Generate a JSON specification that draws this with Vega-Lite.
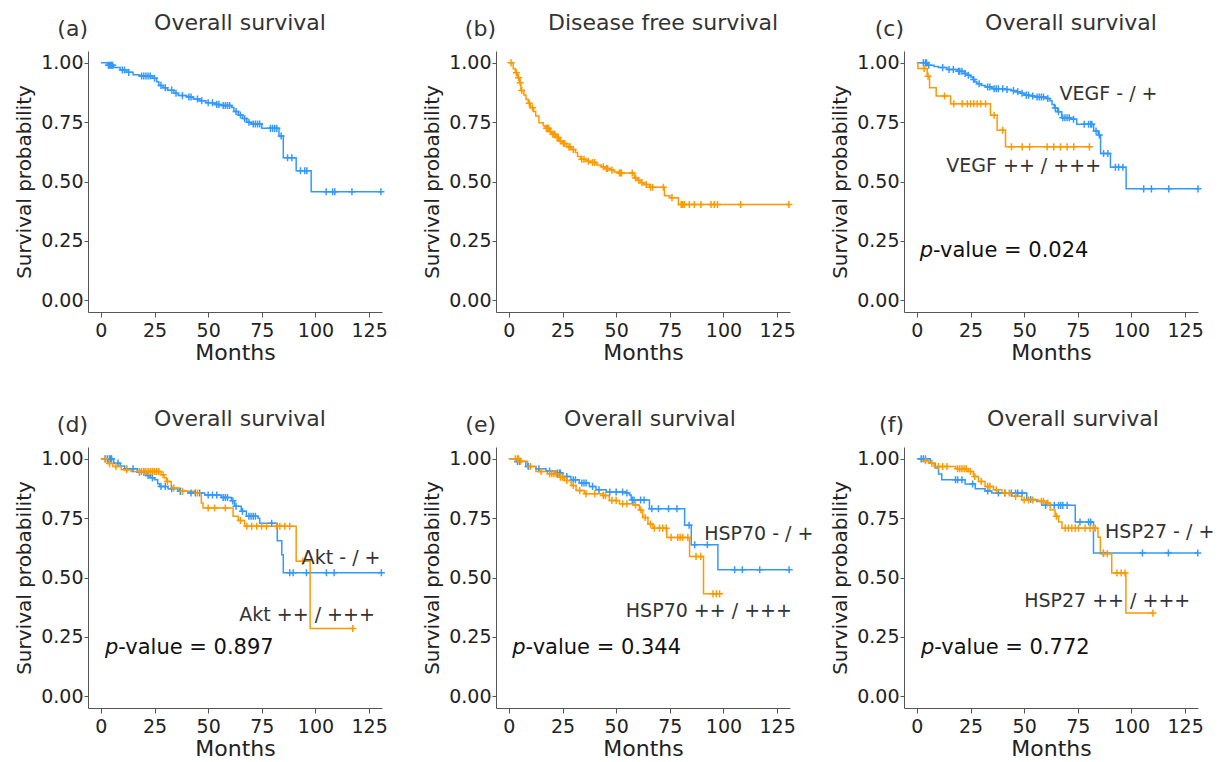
{
 "$schema": "https://vega.github.io/schema/vega-lite/v6.json",
 "padding": {"left": 14, "top": 11, "right": 5, "bottom": 0},
 "background": "white",
 "columns": 3,
 "spacing": {"row": 135, "column": 114},
 "bounds": "flush",
 "datasets": {
  "km": [
   {"p":"a","g":"low","t":0,"s":1},{"p":"a","g":"low","t":3,"s":0.99},{"p":"a","g":"low","t":6,"s":0.98},{"p":"a","g":"low","t":9,"s":0.97},{"p":"a","g":"low","t":12,"s":0.96},{"p":"a","g":"low","t":15,"s":0.95},{"p":"a","g":"low","t":18,"s":0.945},{"p":"a","g":"low","t":24,"s":0.935},{"p":"a","g":"low","t":26,"s":0.92},{"p":"a","g":"low","t":27,"s":0.905},{"p":"a","g":"low","t":29,"s":0.895},{"p":"a","g":"low","t":31,"s":0.885},{"p":"a","g":"low","t":34,"s":0.872},{"p":"a","g":"low","t":36,"s":0.862},{"p":"a","g":"low","t":40,"s":0.856},{"p":"a","g":"low","t":43,"s":0.848},{"p":"a","g":"low","t":46,"s":0.84},{"p":"a","g":"low","t":49,"s":0.832},{"p":"a","g":"low","t":53,"s":0.825},{"p":"a","g":"low","t":56,"s":0.82},{"p":"a","g":"low","t":61,"s":0.812},{"p":"a","g":"low","t":62,"s":0.795},{"p":"a","g":"low","t":64,"s":0.78},{"p":"a","g":"low","t":66,"s":0.765},{"p":"a","g":"low","t":68,"s":0.75},{"p":"a","g":"low","t":70,"s":0.742},{"p":"a","g":"low","t":75,"s":0.724},{"p":"a","g":"low","t":83,"s":0.692},{"p":"a","g":"low","t":85,"s":0.6},{"p":"a","g":"low","t":91,"s":0.545},{"p":"a","g":"low","t":98,"s":0.457},{"p":"a","g":"low","t":130.5,"s":0.457},
   {"p":"b","g":"high","t":0,"s":1},{"p":"b","g":"high","t":2,"s":0.975},{"p":"b","g":"high","t":3,"s":0.958},{"p":"b","g":"high","t":4,"s":0.937},{"p":"b","g":"high","t":5,"s":0.916},{"p":"b","g":"high","t":5.6,"s":0.884},{"p":"b","g":"high","t":7,"s":0.865},{"p":"b","g":"high","t":8,"s":0.846},{"p":"b","g":"high","t":9,"s":0.83},{"p":"b","g":"high","t":10,"s":0.811},{"p":"b","g":"high","t":11.5,"s":0.795},{"p":"b","g":"high","t":12.5,"s":0.776},{"p":"b","g":"high","t":14,"s":0.748},{"p":"b","g":"high","t":16,"s":0.735},{"p":"b","g":"high","t":17,"s":0.724},{"p":"b","g":"high","t":19,"s":0.71},{"p":"b","g":"high","t":20,"s":0.699},{"p":"b","g":"high","t":22,"s":0.685},{"p":"b","g":"high","t":23.5,"s":0.671},{"p":"b","g":"high","t":25,"s":0.66},{"p":"b","g":"high","t":27,"s":0.646},{"p":"b","g":"high","t":29,"s":0.635},{"p":"b","g":"high","t":31,"s":0.622},{"p":"b","g":"high","t":32,"s":0.605},{"p":"b","g":"high","t":33.5,"s":0.594},{"p":"b","g":"high","t":36,"s":0.585},{"p":"b","g":"high","t":38,"s":0.58},{"p":"b","g":"high","t":41,"s":0.57},{"p":"b","g":"high","t":43,"s":0.562},{"p":"b","g":"high","t":45,"s":0.555},{"p":"b","g":"high","t":47,"s":0.548},{"p":"b","g":"high","t":49,"s":0.54},{"p":"b","g":"high","t":51,"s":0.536},{"p":"b","g":"high","t":58.5,"s":0.515},{"p":"b","g":"high","t":60,"s":0.505},{"p":"b","g":"high","t":61.5,"s":0.495},{"p":"b","g":"high","t":63,"s":0.487},{"p":"b","g":"high","t":65.5,"s":0.476},{"p":"b","g":"high","t":72.5,"s":0.44},{"p":"b","g":"high","t":75,"s":0.432},{"p":"b","g":"high","t":79,"s":0.403},{"p":"b","g":"high","t":130.5,"s":0.403},
   {"p":"c","g":"low","t":0,"s":1},{"p":"c","g":"low","t":5,"s":0.99},{"p":"c","g":"low","t":8,"s":0.985},{"p":"c","g":"low","t":10,"s":0.98},{"p":"c","g":"low","t":14,"s":0.972},{"p":"c","g":"low","t":19,"s":0.965},{"p":"c","g":"low","t":22,"s":0.955},{"p":"c","g":"low","t":23.5,"s":0.948},{"p":"c","g":"low","t":25,"s":0.94},{"p":"c","g":"low","t":26,"s":0.93},{"p":"c","g":"low","t":27,"s":0.92},{"p":"c","g":"low","t":28,"s":0.912},{"p":"c","g":"low","t":30,"s":0.905},{"p":"c","g":"low","t":32,"s":0.898},{"p":"c","g":"low","t":35,"s":0.891},{"p":"c","g":"low","t":41,"s":0.888},{"p":"c","g":"low","t":44,"s":0.883},{"p":"c","g":"low","t":46,"s":0.878},{"p":"c","g":"low","t":48,"s":0.872},{"p":"c","g":"low","t":50,"s":0.864},{"p":"c","g":"low","t":53,"s":0.86},{"p":"c","g":"low","t":55,"s":0.856},{"p":"c","g":"low","t":60,"s":0.85},{"p":"c","g":"low","t":62,"s":0.84},{"p":"c","g":"low","t":63,"s":0.825},{"p":"c","g":"low","t":64,"s":0.81},{"p":"c","g":"low","t":65.5,"s":0.794},{"p":"c","g":"low","t":67.5,"s":0.769},{"p":"c","g":"low","t":72,"s":0.762},{"p":"c","g":"low","t":74.5,"s":0.741},{"p":"c","g":"low","t":82.4,"s":0.713},{"p":"c","g":"low","t":84.5,"s":0.696},{"p":"c","g":"low","t":85.6,"s":0.618},{"p":"c","g":"low","t":90.2,"s":0.56},{"p":"c","g":"low","t":97.5,"s":0.469},{"p":"c","g":"low","t":131,"s":0.469},
   {"p":"c","g":"high","t":0,"s":1},{"p":"c","g":"high","t":0.5,"s":0.976},{"p":"c","g":"high","t":4.8,"s":0.944},{"p":"c","g":"high","t":5.9,"s":0.895},{"p":"c","g":"high","t":9,"s":0.86},{"p":"c","g":"high","t":15.7,"s":0.828},{"p":"c","g":"high","t":34.3,"s":0.779},{"p":"c","g":"high","t":37.4,"s":0.716},{"p":"c","g":"high","t":41.3,"s":0.646},{"p":"c","g":"high","t":80.9,"s":0.646},
   {"p":"d","g":"low","t":0,"s":1},{"p":"d","g":"low","t":6,"s":0.982},{"p":"d","g":"low","t":9,"s":0.97},{"p":"d","g":"low","t":11,"s":0.958},{"p":"d","g":"low","t":17,"s":0.944},{"p":"d","g":"low","t":21,"s":0.93},{"p":"d","g":"low","t":23,"s":0.92},{"p":"d","g":"low","t":25,"s":0.912},{"p":"d","g":"low","t":26.5,"s":0.895},{"p":"d","g":"low","t":27.4,"s":0.884},{"p":"d","g":"low","t":31.3,"s":0.874},{"p":"d","g":"low","t":35.9,"s":0.863},{"p":"d","g":"low","t":40.6,"s":0.856},{"p":"d","g":"low","t":48.4,"s":0.848},{"p":"d","g":"low","t":56.1,"s":0.837},{"p":"d","g":"low","t":60.8,"s":0.823},{"p":"d","g":"low","t":62.3,"s":0.8},{"p":"d","g":"low","t":65.4,"s":0.779},{"p":"d","g":"low","t":67.8,"s":0.758},{"p":"d","g":"low","t":73.2,"s":0.75},{"p":"d","g":"low","t":74,"s":0.729},{"p":"d","g":"low","t":82.2,"s":0.655},{"p":"d","g":"low","t":84.3,"s":0.596},{"p":"d","g":"low","t":85,"s":0.52},{"p":"d","g":"low","t":130.7,"s":0.52},
   {"p":"d","g":"high","t":0,"s":1},{"p":"d","g":"high","t":3.4,"s":0.98},{"p":"d","g":"high","t":5.6,"s":0.968},{"p":"d","g":"high","t":9.5,"s":0.954},{"p":"d","g":"high","t":14.1,"s":0.947},{"p":"d","g":"high","t":28.1,"s":0.933},{"p":"d","g":"high","t":29.5,"s":0.92},{"p":"d","g":"high","t":30.5,"s":0.905},{"p":"d","g":"high","t":32.8,"s":0.877},{"p":"d","g":"high","t":36.7,"s":0.863},{"p":"d","g":"high","t":43.7,"s":0.856},{"p":"d","g":"high","t":46.8,"s":0.814},{"p":"d","g":"high","t":47.6,"s":0.793},{"p":"d","g":"high","t":61.6,"s":0.758},{"p":"d","g":"high","t":64,"s":0.74},{"p":"d","g":"high","t":67,"s":0.716},{"p":"d","g":"high","t":91,"s":0.568},{"p":"d","g":"high","t":97.5,"s":0.285},{"p":"d","g":"high","t":117.4,"s":0.285},
   {"p":"e","g":"low","t":0,"s":1},{"p":"e","g":"low","t":3.3,"s":0.989},{"p":"e","g":"low","t":7.9,"s":0.968},{"p":"e","g":"low","t":12.6,"s":0.958},{"p":"e","g":"low","t":17.3,"s":0.949},{"p":"e","g":"low","t":21.9,"s":0.94},{"p":"e","g":"low","t":25.1,"s":0.926},{"p":"e","g":"low","t":28.9,"s":0.912},{"p":"e","g":"low","t":32.8,"s":0.898},{"p":"e","g":"low","t":37.5,"s":0.884},{"p":"e","g":"low","t":40.6,"s":0.87},{"p":"e","g":"low","t":45.3,"s":0.86},{"p":"e","g":"low","t":54.6,"s":0.856},{"p":"e","g":"low","t":56.2,"s":0.848},{"p":"e","g":"low","t":57,"s":0.827},{"p":"e","g":"low","t":65.5,"s":0.79},{"p":"e","g":"low","t":81.9,"s":0.72},{"p":"e","g":"low","t":85,"s":0.638},{"p":"e","g":"low","t":97.4,"s":0.533},{"p":"e","g":"low","t":130.6,"s":0.533},
   {"p":"e","g":"high","t":0,"s":1},{"p":"e","g":"high","t":5,"s":0.99},{"p":"e","g":"high","t":8.7,"s":0.968},{"p":"e","g":"high","t":12.6,"s":0.947},{"p":"e","g":"high","t":18,"s":0.937},{"p":"e","g":"high","t":22.7,"s":0.923},{"p":"e","g":"high","t":25.8,"s":0.909},{"p":"e","g":"high","t":29,"s":0.888},{"p":"e","g":"high","t":31.3,"s":0.867},{"p":"e","g":"high","t":35.2,"s":0.853},{"p":"e","g":"high","t":43.7,"s":0.846},{"p":"e","g":"high","t":46.8,"s":0.825},{"p":"e","g":"high","t":51.5,"s":0.811},{"p":"e","g":"high","t":57.8,"s":0.806},{"p":"e","g":"high","t":60.8,"s":0.785},{"p":"e","g":"high","t":62.4,"s":0.753},{"p":"e","g":"high","t":64.8,"s":0.725},{"p":"e","g":"high","t":67.1,"s":0.708},{"p":"e","g":"high","t":73.6,"s":0.669},{"p":"e","g":"high","t":84.2,"s":0.589},{"p":"e","g":"high","t":90.7,"s":0.431},{"p":"e","g":"high","t":98.2,"s":0.431},
   {"p":"f","g":"low","t":0,"s":1},{"p":"f","g":"low","t":6.2,"s":0.982},{"p":"f","g":"low","t":8.5,"s":0.961},{"p":"f","g":"low","t":10.1,"s":0.936},{"p":"f","g":"low","t":11.6,"s":0.912},{"p":"f","g":"low","t":22.5,"s":0.894},{"p":"f","g":"low","t":27.2,"s":0.874},{"p":"f","g":"low","t":31.8,"s":0.865},{"p":"f","g":"low","t":34.9,"s":0.856},{"p":"f","g":"low","t":51.2,"s":0.829},{"p":"f","g":"low","t":55.9,"s":0.82},{"p":"f","g":"low","t":58.2,"s":0.804},{"p":"f","g":"low","t":73.8,"s":0.734},{"p":"f","g":"low","t":82.3,"s":0.603},{"p":"f","g":"low","t":131,"s":0.603},
   {"p":"f","g":"high","t":0,"s":1},{"p":"f","g":"high","t":3.1,"s":0.992},{"p":"f","g":"high","t":5.4,"s":0.982},{"p":"f","g":"high","t":8,"s":0.968},{"p":"f","g":"high","t":18.2,"s":0.958},{"p":"f","g":"high","t":24,"s":0.947},{"p":"f","g":"high","t":26.4,"s":0.926},{"p":"f","g":"high","t":28.7,"s":0.905},{"p":"f","g":"high","t":31.8,"s":0.884},{"p":"f","g":"high","t":35.7,"s":0.87},{"p":"f","g":"high","t":39.6,"s":0.856},{"p":"f","g":"high","t":44.3,"s":0.842},{"p":"f","g":"high","t":48.9,"s":0.827},{"p":"f","g":"high","t":56.7,"s":0.821},{"p":"f","g":"high","t":60.6,"s":0.814},{"p":"f","g":"high","t":62.1,"s":0.785},{"p":"f","g":"high","t":64.4,"s":0.758},{"p":"f","g":"high","t":66,"s":0.734},{"p":"f","g":"high","t":67.6,"s":0.708},{"p":"f","g":"high","t":84.4,"s":0.67},{"p":"f","g":"high","t":85.5,"s":0.6},{"p":"f","g":"high","t":90.8,"s":0.519},{"p":"f","g":"high","t":97.4,"s":0.35},{"p":"f","g":"high","t":110,"s":0.35}
  ],
  "cs": [
   {"p":"a","g":"low","t":3.5,"s":0.99},{"p":"a","g":"low","t":4,"s":0.99},{"p":"a","g":"low","t":4.5,"s":0.99},{"p":"a","g":"low","t":5,"s":0.99},{"p":"a","g":"low","t":5.5,"s":0.99},{"p":"a","g":"low","t":10,"s":0.97},{"p":"a","g":"low","t":11,"s":0.97},{"p":"a","g":"low","t":13,"s":0.96},{"p":"a","g":"low","t":19,"s":0.945},{"p":"a","g":"low","t":20,"s":0.945},{"p":"a","g":"low","t":21,"s":0.945},{"p":"a","g":"low","t":22,"s":0.945},{"p":"a","g":"low","t":23,"s":0.945},{"p":"a","g":"low","t":25,"s":0.935},{"p":"a","g":"low","t":28,"s":0.905},{"p":"a","g":"low","t":30,"s":0.895},{"p":"a","g":"low","t":33,"s":0.885},{"p":"a","g":"low","t":35,"s":0.872},{"p":"a","g":"low","t":38,"s":0.862},{"p":"a","g":"low","t":41,"s":0.856},{"p":"a","g":"low","t":42,"s":0.856},{"p":"a","g":"low","t":45,"s":0.848},{"p":"a","g":"low","t":47,"s":0.84},{"p":"a","g":"low","t":50,"s":0.832},{"p":"a","g":"low","t":52,"s":0.832},{"p":"a","g":"low","t":54,"s":0.825},{"p":"a","g":"low","t":55,"s":0.825},{"p":"a","g":"low","t":57,"s":0.82},{"p":"a","g":"low","t":58,"s":0.82},{"p":"a","g":"low","t":59,"s":0.82},{"p":"a","g":"low","t":60,"s":0.82},{"p":"a","g":"low","t":63,"s":0.795},{"p":"a","g":"low","t":65,"s":0.78},{"p":"a","g":"low","t":67,"s":0.765},{"p":"a","g":"low","t":69,"s":0.75},{"p":"a","g":"low","t":71,"s":0.742},{"p":"a","g":"low","t":72,"s":0.742},{"p":"a","g":"low","t":73,"s":0.742},{"p":"a","g":"low","t":74,"s":0.742},{"p":"a","g":"low","t":79,"s":0.724},{"p":"a","g":"low","t":80,"s":0.724},{"p":"a","g":"low","t":81,"s":0.724},{"p":"a","g":"low","t":82,"s":0.724},{"p":"a","g":"low","t":84,"s":0.692},{"p":"a","g":"low","t":87,"s":0.6},{"p":"a","g":"low","t":89,"s":0.6},{"p":"a","g":"low","t":93,"s":0.545},{"p":"a","g":"low","t":95,"s":0.545},{"p":"a","g":"low","t":96,"s":0.545},{"p":"a","g":"low","t":105,"s":0.457},{"p":"a","g":"low","t":108,"s":0.457},{"p":"a","g":"low","t":109,"s":0.457},{"p":"a","g":"low","t":117,"s":0.457},{"p":"a","g":"low","t":130.5,"s":0.457},
   {"p":"b","g":"high","t":1,"s":1},{"p":"b","g":"high","t":3.5,"s":0.958},{"p":"b","g":"high","t":4.5,"s":0.937},{"p":"b","g":"high","t":5.3,"s":0.916},{"p":"b","g":"high","t":6,"s":0.884},{"p":"b","g":"high","t":9.5,"s":0.83},{"p":"b","g":"high","t":11,"s":0.811},{"p":"b","g":"high","t":17.5,"s":0.724},{"p":"b","g":"high","t":18,"s":0.724},{"p":"b","g":"high","t":18.5,"s":0.724},{"p":"b","g":"high","t":19.5,"s":0.71},{"p":"b","g":"high","t":20.5,"s":0.699},{"p":"b","g":"high","t":21,"s":0.699},{"p":"b","g":"high","t":21.5,"s":0.699},{"p":"b","g":"high","t":22.5,"s":0.685},{"p":"b","g":"high","t":23,"s":0.685},{"p":"b","g":"high","t":24,"s":0.671},{"p":"b","g":"high","t":25.5,"s":0.66},{"p":"b","g":"high","t":26,"s":0.66},{"p":"b","g":"high","t":28,"s":0.646},{"p":"b","g":"high","t":28.5,"s":0.646},{"p":"b","g":"high","t":30,"s":0.635},{"p":"b","g":"high","t":34,"s":0.594},{"p":"b","g":"high","t":35,"s":0.594},{"p":"b","g":"high","t":37,"s":0.585},{"p":"b","g":"high","t":39,"s":0.58},{"p":"b","g":"high","t":40,"s":0.58},{"p":"b","g":"high","t":44,"s":0.562},{"p":"b","g":"high","t":45.5,"s":0.555},{"p":"b","g":"high","t":46,"s":0.555},{"p":"b","g":"high","t":48,"s":0.548},{"p":"b","g":"high","t":51.5,"s":0.536},{"p":"b","g":"high","t":52,"s":0.536},{"p":"b","g":"high","t":52.5,"s":0.536},{"p":"b","g":"high","t":57.5,"s":0.536},{"p":"b","g":"high","t":59,"s":0.515},{"p":"b","g":"high","t":60.5,"s":0.505},{"p":"b","g":"high","t":62,"s":0.495},{"p":"b","g":"high","t":64,"s":0.487},{"p":"b","g":"high","t":66,"s":0.476},{"p":"b","g":"high","t":67,"s":0.476},{"p":"b","g":"high","t":72,"s":0.476},{"p":"b","g":"high","t":76,"s":0.432},{"p":"b","g":"high","t":80.3,"s":0.403},{"p":"b","g":"high","t":81,"s":0.403},{"p":"b","g":"high","t":81.8,"s":0.403},{"p":"b","g":"high","t":84.1,"s":0.403},{"p":"b","g":"high","t":86.4,"s":0.403},{"p":"b","g":"high","t":89.5,"s":0.403},{"p":"b","g":"high","t":94.2,"s":0.403},{"p":"b","g":"high","t":95.7,"s":0.403},{"p":"b","g":"high","t":97.2,"s":0.403},{"p":"b","g":"high","t":108,"s":0.403},{"p":"b","g":"high","t":130.5,"s":0.403},
   {"p":"c","g":"low","t":3,"s":1},{"p":"c","g":"low","t":4,"s":1},{"p":"c","g":"low","t":4.5,"s":1},{"p":"c","g":"low","t":5.5,"s":0.99},{"p":"c","g":"low","t":12,"s":0.98},{"p":"c","g":"low","t":15,"s":0.972},{"p":"c","g":"low","t":17,"s":0.972},{"p":"c","g":"low","t":19.5,"s":0.965},{"p":"c","g":"low","t":20,"s":0.965},{"p":"c","g":"low","t":21,"s":0.965},{"p":"c","g":"low","t":22.5,"s":0.955},{"p":"c","g":"low","t":24,"s":0.948},{"p":"c","g":"low","t":26.5,"s":0.93},{"p":"c","g":"low","t":29,"s":0.912},{"p":"c","g":"low","t":33,"s":0.898},{"p":"c","g":"low","t":34,"s":0.898},{"p":"c","g":"low","t":36,"s":0.891},{"p":"c","g":"low","t":37,"s":0.891},{"p":"c","g":"low","t":38,"s":0.891},{"p":"c","g":"low","t":40,"s":0.891},{"p":"c","g":"low","t":42,"s":0.888},{"p":"c","g":"low","t":45,"s":0.883},{"p":"c","g":"low","t":47,"s":0.878},{"p":"c","g":"low","t":49,"s":0.872},{"p":"c","g":"low","t":51,"s":0.864},{"p":"c","g":"low","t":52,"s":0.864},{"p":"c","g":"low","t":54,"s":0.86},{"p":"c","g":"low","t":56,"s":0.856},{"p":"c","g":"low","t":57,"s":0.856},{"p":"c","g":"low","t":58,"s":0.856},{"p":"c","g":"low","t":59,"s":0.856},{"p":"c","g":"low","t":61,"s":0.85},{"p":"c","g":"low","t":64.5,"s":0.81},{"p":"c","g":"low","t":66,"s":0.794},{"p":"c","g":"low","t":68,"s":0.769},{"p":"c","g":"low","t":69,"s":0.769},{"p":"c","g":"low","t":70,"s":0.769},{"p":"c","g":"low","t":71,"s":0.769},{"p":"c","g":"low","t":73,"s":0.762},{"p":"c","g":"low","t":78,"s":0.741},{"p":"c","g":"low","t":80,"s":0.741},{"p":"c","g":"low","t":81,"s":0.741},{"p":"c","g":"low","t":81.5,"s":0.741},{"p":"c","g":"low","t":83.5,"s":0.713},{"p":"c","g":"low","t":85,"s":0.696},{"p":"c","g":"low","t":87,"s":0.618},{"p":"c","g":"low","t":89,"s":0.618},{"p":"c","g":"low","t":92.5,"s":0.56},{"p":"c","g":"low","t":94,"s":0.56},{"p":"c","g":"low","t":96,"s":0.56},{"p":"c","g":"low","t":105.7,"s":0.469},{"p":"c","g":"low","t":109.3,"s":0.469},{"p":"c","g":"low","t":117.4,"s":0.469},{"p":"c","g":"low","t":131,"s":0.469},
   {"p":"c","g":"high","t":3.4,"s":0.976},{"p":"c","g":"high","t":5.2,"s":0.944},{"p":"c","g":"high","t":12.9,"s":0.86},{"p":"c","g":"high","t":17.2,"s":0.828},{"p":"c","g":"high","t":21.1,"s":0.828},{"p":"c","g":"high","t":23.5,"s":0.828},{"p":"c","g":"high","t":25,"s":0.828},{"p":"c","g":"high","t":26.5,"s":0.828},{"p":"c","g":"high","t":28.1,"s":0.828},{"p":"c","g":"high","t":29.7,"s":0.828},{"p":"c","g":"high","t":32,"s":0.828},{"p":"c","g":"high","t":36,"s":0.779},{"p":"c","g":"high","t":40,"s":0.716},{"p":"c","g":"high","t":44.1,"s":0.646},{"p":"c","g":"high","t":49.1,"s":0.646},{"p":"c","g":"high","t":52.5,"s":0.646},{"p":"c","g":"high","t":60.7,"s":0.646},{"p":"c","g":"high","t":63.8,"s":0.646},{"p":"c","g":"high","t":66.9,"s":0.646},{"p":"c","g":"high","t":70,"s":0.646},{"p":"c","g":"high","t":73.1,"s":0.646},{"p":"c","g":"high","t":80.4,"s":0.646},
   {"p":"d","g":"low","t":2,"s":1},{"p":"d","g":"low","t":3,"s":1},{"p":"d","g":"low","t":4,"s":1},{"p":"d","g":"low","t":4.5,"s":1},{"p":"d","g":"low","t":5,"s":1},{"p":"d","g":"low","t":8,"s":0.982},{"p":"d","g":"low","t":12,"s":0.958},{"p":"d","g":"low","t":15,"s":0.958},{"p":"d","g":"low","t":18,"s":0.944},{"p":"d","g":"low","t":20,"s":0.944},{"p":"d","g":"low","t":22,"s":0.93},{"p":"d","g":"low","t":24,"s":0.92},{"p":"d","g":"low","t":28,"s":0.884},{"p":"d","g":"low","t":30,"s":0.884},{"p":"d","g":"low","t":33,"s":0.874},{"p":"d","g":"low","t":37,"s":0.863},{"p":"d","g":"low","t":42,"s":0.856},{"p":"d","g":"low","t":44,"s":0.856},{"p":"d","g":"low","t":46,"s":0.856},{"p":"d","g":"low","t":50,"s":0.848},{"p":"d","g":"low","t":52,"s":0.848},{"p":"d","g":"low","t":54,"s":0.848},{"p":"d","g":"low","t":57,"s":0.837},{"p":"d","g":"low","t":58,"s":0.837},{"p":"d","g":"low","t":59,"s":0.837},{"p":"d","g":"low","t":61.5,"s":0.823},{"p":"d","g":"low","t":63,"s":0.8},{"p":"d","g":"low","t":66,"s":0.779},{"p":"d","g":"low","t":69,"s":0.758},{"p":"d","g":"low","t":70,"s":0.758},{"p":"d","g":"low","t":71,"s":0.758},{"p":"d","g":"low","t":72,"s":0.758},{"p":"d","g":"low","t":79.6,"s":0.729},{"p":"d","g":"low","t":88,"s":0.52},{"p":"d","g":"low","t":89.6,"s":0.52},{"p":"d","g":"low","t":95.8,"s":0.52},{"p":"d","g":"low","t":105.1,"s":0.52},{"p":"d","g":"low","t":108.7,"s":0.52},{"p":"d","g":"low","t":130.7,"s":0.52},
   {"p":"d","g":"high","t":2,"s":1},{"p":"d","g":"high","t":4,"s":0.98},{"p":"d","g":"high","t":7,"s":0.968},{"p":"d","g":"high","t":12,"s":0.954},{"p":"d","g":"high","t":18,"s":0.947},{"p":"d","g":"high","t":19,"s":0.947},{"p":"d","g":"high","t":20,"s":0.947},{"p":"d","g":"high","t":21,"s":0.947},{"p":"d","g":"high","t":22,"s":0.947},{"p":"d","g":"high","t":23,"s":0.947},{"p":"d","g":"high","t":24,"s":0.947},{"p":"d","g":"high","t":25,"s":0.947},{"p":"d","g":"high","t":26,"s":0.947},{"p":"d","g":"high","t":27,"s":0.947},{"p":"d","g":"high","t":29,"s":0.933},{"p":"d","g":"high","t":31,"s":0.905},{"p":"d","g":"high","t":34,"s":0.877},{"p":"d","g":"high","t":38,"s":0.863},{"p":"d","g":"high","t":45,"s":0.856},{"p":"d","g":"high","t":50,"s":0.793},{"p":"d","g":"high","t":53,"s":0.793},{"p":"d","g":"high","t":58,"s":0.793},{"p":"d","g":"high","t":65,"s":0.74},{"p":"d","g":"high","t":68,"s":0.716},{"p":"d","g":"high","t":70.3,"s":0.716},{"p":"d","g":"high","t":72.6,"s":0.716},{"p":"d","g":"high","t":74.9,"s":0.716},{"p":"d","g":"high","t":77.2,"s":0.716},{"p":"d","g":"high","t":81.9,"s":0.716},{"p":"d","g":"high","t":83.4,"s":0.716},{"p":"d","g":"high","t":85.7,"s":0.716},{"p":"d","g":"high","t":88,"s":0.716},{"p":"d","g":"high","t":94,"s":0.568},{"p":"d","g":"high","t":117.4,"s":0.285},
   {"p":"e","g":"low","t":4,"s":0.989},{"p":"e","g":"low","t":5,"s":0.989},{"p":"e","g":"low","t":9,"s":0.968},{"p":"e","g":"low","t":14,"s":0.958},{"p":"e","g":"low","t":19,"s":0.949},{"p":"e","g":"low","t":22.5,"s":0.94},{"p":"e","g":"low","t":23.5,"s":0.94},{"p":"e","g":"low","t":24,"s":0.94},{"p":"e","g":"low","t":27,"s":0.926},{"p":"e","g":"low","t":30,"s":0.912},{"p":"e","g":"low","t":31,"s":0.912},{"p":"e","g":"low","t":34,"s":0.898},{"p":"e","g":"low","t":35,"s":0.898},{"p":"e","g":"low","t":36,"s":0.898},{"p":"e","g":"low","t":39,"s":0.884},{"p":"e","g":"low","t":42,"s":0.87},{"p":"e","g":"low","t":47,"s":0.86},{"p":"e","g":"low","t":50,"s":0.86},{"p":"e","g":"low","t":53,"s":0.86},{"p":"e","g":"low","t":55,"s":0.856},{"p":"e","g":"low","t":57.5,"s":0.827},{"p":"e","g":"low","t":58.3,"s":0.827},{"p":"e","g":"low","t":61.4,"s":0.827},{"p":"e","g":"low","t":63,"s":0.827},{"p":"e","g":"low","t":66.6,"s":0.79},{"p":"e","g":"low","t":69.7,"s":0.79},{"p":"e","g":"low","t":74.4,"s":0.79},{"p":"e","g":"low","t":78.3,"s":0.79},{"p":"e","g":"low","t":84,"s":0.72},{"p":"e","g":"low","t":86.6,"s":0.638},{"p":"e","g":"low","t":92.5,"s":0.638},{"p":"e","g":"low","t":105.2,"s":0.533},{"p":"e","g":"low","t":108.8,"s":0.533},{"p":"e","g":"low","t":116.9,"s":0.533},{"p":"e","g":"low","t":130.6,"s":0.533},
   {"p":"e","g":"high","t":3,"s":1},{"p":"e","g":"high","t":4,"s":1},{"p":"e","g":"high","t":4.5,"s":1},{"p":"e","g":"high","t":5.5,"s":0.99},{"p":"e","g":"high","t":10,"s":0.968},{"p":"e","g":"high","t":15,"s":0.947},{"p":"e","g":"high","t":19,"s":0.937},{"p":"e","g":"high","t":20,"s":0.937},{"p":"e","g":"high","t":21,"s":0.937},{"p":"e","g":"high","t":22,"s":0.937},{"p":"e","g":"high","t":24,"s":0.923},{"p":"e","g":"high","t":25,"s":0.923},{"p":"e","g":"high","t":27,"s":0.909},{"p":"e","g":"high","t":30,"s":0.888},{"p":"e","g":"high","t":33,"s":0.867},{"p":"e","g":"high","t":36,"s":0.853},{"p":"e","g":"high","t":40,"s":0.853},{"p":"e","g":"high","t":44,"s":0.846},{"p":"e","g":"high","t":45,"s":0.846},{"p":"e","g":"high","t":48,"s":0.825},{"p":"e","g":"high","t":50,"s":0.825},{"p":"e","g":"high","t":53,"s":0.811},{"p":"e","g":"high","t":55,"s":0.811},{"p":"e","g":"high","t":59,"s":0.806},{"p":"e","g":"high","t":61.5,"s":0.785},{"p":"e","g":"high","t":63.5,"s":0.753},{"p":"e","g":"high","t":66,"s":0.725},{"p":"e","g":"high","t":67.8,"s":0.708},{"p":"e","g":"high","t":70.2,"s":0.708},{"p":"e","g":"high","t":71.7,"s":0.708},{"p":"e","g":"high","t":73.3,"s":0.708},{"p":"e","g":"high","t":75.6,"s":0.669},{"p":"e","g":"high","t":78.7,"s":0.669},{"p":"e","g":"high","t":79.8,"s":0.669},{"p":"e","g":"high","t":81,"s":0.669},{"p":"e","g":"high","t":83.4,"s":0.669},{"p":"e","g":"high","t":87.2,"s":0.589},{"p":"e","g":"high","t":89.4,"s":0.589},{"p":"e","g":"high","t":95.1,"s":0.431},{"p":"e","g":"high","t":96.7,"s":0.431},{"p":"e","g":"high","t":98.2,"s":0.431},
   {"p":"f","g":"low","t":2,"s":1},{"p":"f","g":"low","t":3,"s":1},{"p":"f","g":"low","t":4,"s":1},{"p":"f","g":"low","t":18,"s":0.912},{"p":"f","g":"low","t":19,"s":0.912},{"p":"f","g":"low","t":21,"s":0.912},{"p":"f","g":"low","t":26,"s":0.894},{"p":"f","g":"low","t":33,"s":0.865},{"p":"f","g":"low","t":38,"s":0.856},{"p":"f","g":"low","t":41,"s":0.856},{"p":"f","g":"low","t":44,"s":0.856},{"p":"f","g":"low","t":46,"s":0.856},{"p":"f","g":"low","t":47,"s":0.856},{"p":"f","g":"low","t":49,"s":0.856},{"p":"f","g":"low","t":53,"s":0.829},{"p":"f","g":"low","t":60,"s":0.804},{"p":"f","g":"low","t":64,"s":0.804},{"p":"f","g":"low","t":66,"s":0.804},{"p":"f","g":"low","t":67,"s":0.804},{"p":"f","g":"low","t":68,"s":0.804},{"p":"f","g":"low","t":70,"s":0.804},{"p":"f","g":"low","t":76,"s":0.734},{"p":"f","g":"low","t":80,"s":0.734},{"p":"f","g":"low","t":81,"s":0.734},{"p":"f","g":"low","t":86.9,"s":0.603},{"p":"f","g":"low","t":105.1,"s":0.603},{"p":"f","g":"low","t":117.2,"s":0.603},{"p":"f","g":"low","t":130.9,"s":0.603},
   {"p":"f","g":"high","t":4,"s":0.992},{"p":"f","g":"high","t":7,"s":0.982},{"p":"f","g":"high","t":10,"s":0.968},{"p":"f","g":"high","t":12,"s":0.968},{"p":"f","g":"high","t":14,"s":0.968},{"p":"f","g":"high","t":19,"s":0.958},{"p":"f","g":"high","t":20,"s":0.958},{"p":"f","g":"high","t":21,"s":0.958},{"p":"f","g":"high","t":22,"s":0.958},{"p":"f","g":"high","t":23,"s":0.958},{"p":"f","g":"high","t":25,"s":0.947},{"p":"f","g":"high","t":27,"s":0.926},{"p":"f","g":"high","t":30,"s":0.905},{"p":"f","g":"high","t":33,"s":0.884},{"p":"f","g":"high","t":34,"s":0.884},{"p":"f","g":"high","t":37,"s":0.87},{"p":"f","g":"high","t":41,"s":0.856},{"p":"f","g":"high","t":43,"s":0.856},{"p":"f","g":"high","t":46,"s":0.842},{"p":"f","g":"high","t":50,"s":0.827},{"p":"f","g":"high","t":52,"s":0.827},{"p":"f","g":"high","t":54,"s":0.827},{"p":"f","g":"high","t":58,"s":0.821},{"p":"f","g":"high","t":59,"s":0.821},{"p":"f","g":"high","t":61,"s":0.814},{"p":"f","g":"high","t":65,"s":0.758},{"p":"f","g":"high","t":69.1,"s":0.708},{"p":"f","g":"high","t":70.6,"s":0.708},{"p":"f","g":"high","t":72.2,"s":0.708},{"p":"f","g":"high","t":73.8,"s":0.708},{"p":"f","g":"high","t":75.3,"s":0.708},{"p":"f","g":"high","t":78.4,"s":0.708},{"p":"f","g":"high","t":80.7,"s":0.708},{"p":"f","g":"high","t":82.3,"s":0.708},{"p":"f","g":"high","t":83.1,"s":0.708},{"p":"f","g":"high","t":87,"s":0.6},{"p":"f","g":"high","t":88.7,"s":0.6},{"p":"f","g":"high","t":93.2,"s":0.519},{"p":"f","g":"high","t":95.2,"s":0.519},{"p":"f","g":"high","t":97,"s":0.519},{"p":"f","g":"high","t":110,"s":0.35}
  ],
  "lab": [
   {"p":"a","k":"let","t":-6,"s":1.143,"text":"(a)"},
   {"p":"b","k":"let","t":-6,"s":1.143,"text":"(b)"},
   {"p":"c","k":"let","t":-6,"s":1.143,"text":"(c)"},
   {"p":"d","k":"let","t":-6,"s":1.143,"text":"(d)"},
   {"p":"e","k":"let","t":-6,"s":1.143,"text":"(e)"},
   {"p":"f","k":"let","t":-6,"s":1.143,"text":"(f)"},
   {"p":"c","k":"lab","t":66.5,"s":0.867,"text":"VEGF - / +"},
   {"p":"c","k":"lab","t":13.7,"s":0.566,"text":"VEGF ++ / +++"},
   {"p":"d","k":"lab","t":93.6,"s":0.582,"text":"Akt - / +"},
   {"p":"d","k":"lab","t":64.5,"s":0.343,"text":"Akt ++ / +++"},
   {"p":"e","k":"lab","t":91,"s":0.684,"text":"HSP70 - / +"},
   {"p":"e","k":"lab","t":54.5,"s":0.36,"text":"HSP70 ++ / +++"},
   {"p":"f","k":"lab","t":87.7,"s":0.691,"text":"HSP27 - / +"},
   {"p":"f","k":"lab","t":50,"s":0.4,"text":"HSP27 ++ / +++"},
   {"p":"c","k":"pi","t":7.5,"s":0.207,"text":"p"},
   {"p":"c","k":"pv","t":7.5,"s":0.207,"text":"-value = 0.024"},
   {"p":"d","k":"pi","t":8.1,"s":0.203,"text":"p"},
   {"p":"d","k":"pv","t":8.1,"s":0.203,"text":"-value = 0.897"},
   {"p":"e","k":"pi","t":7.8,"s":0.203,"text":"p"},
   {"p":"e","k":"pv","t":7.8,"s":0.203,"text":"-value = 0.344"},
   {"p":"f","k":"pi","t":8.1,"s":0.203,"text":"p"},
   {"p":"f","k":"pv","t":8.1,"s":0.203,"text":"-value = 0.772"}
  ]
 },
 "concat": [
  {"title": {"text": "Overall survival", "dx": 5}, "width": 294, "height": 261,
   "encoding": {
    "x": {"field": "t", "type": "quantitative", "scale": {"domain": [-6, 131], "nice": false, "zero": false}, "axis": {"title": "Months", "values": [0,25,50,75,100,125]}},
    "y": {"field": "s", "type": "quantitative", "scale": {"domain": [-0.05, 1.05], "nice": false, "zero": false}, "axis": {"title": "Survival probability", "values": [0,0.25,0.5,0.75,1], "format": ".2f"}}},
   "layer": [
    {"data": {"name": "km"}, "transform": [{"filter": "datum.p == 'a'"}], "mark": {"type": "line", "interpolate": "step-after", "strokeWidth": 1.5}, "encoding": {"color": {"field": "g", "type": "nominal", "scale": {"domain": ["low","high"], "range": ["#3399ff","#ff9900"]}, "legend": null}}},
    {"data": {"name": "cs"}, "transform": [{"filter": "datum.p == 'a'"}], "mark": {"type": "point", "shape": "M-1,0L1,0M0,-1L0,1", "size": 50, "strokeWidth": 1.5, "filled": false, "opacity": 1}, "encoding": {"color": {"field": "g", "type": "nominal", "scale": {"domain": ["low","high"], "range": ["#3399ff","#ff9900"]}, "legend": null}}},
    {"data": {"name": "lab"}, "transform": [{"filter": "datum.p == 'a' && datum.k == 'let'"}], "mark": {"type": "text", "align": "right", "baseline": "middle", "font": "DejaVu Sans", "fontSize": 22, "color": "#333"}, "encoding": {"text": {"field": "text"}}}
   ]},
  {"title": {"text": "Disease free survival", "dx": 20}, "width": 294, "height": 261,
   "encoding": {
    "x": {"field": "t", "type": "quantitative", "scale": {"domain": [-6, 131], "nice": false, "zero": false}, "axis": {"title": "Months", "values": [0,25,50,75,100,125]}},
    "y": {"field": "s", "type": "quantitative", "scale": {"domain": [-0.05, 1.05], "nice": false, "zero": false}, "axis": {"title": "Survival probability", "values": [0,0.25,0.5,0.75,1], "format": ".2f"}}},
   "layer": [
    {"data": {"name": "km"}, "transform": [{"filter": "datum.p == 'b'"}], "mark": {"type": "line", "interpolate": "step-after", "strokeWidth": 1.5}, "encoding": {"color": {"field": "g", "type": "nominal", "scale": {"domain": ["low","high"], "range": ["#3399ff","#ff9900"]}, "legend": null}}},
    {"data": {"name": "cs"}, "transform": [{"filter": "datum.p == 'b'"}], "mark": {"type": "point", "shape": "M-1,0L1,0M0,-1L0,1", "size": 50, "strokeWidth": 1.5, "filled": false, "opacity": 1}, "encoding": {"color": {"field": "g", "type": "nominal", "scale": {"domain": ["low","high"], "range": ["#3399ff","#ff9900"]}, "legend": null}}},
    {"data": {"name": "lab"}, "transform": [{"filter": "datum.p == 'b' && datum.k == 'let'"}], "mark": {"type": "text", "align": "right", "baseline": "middle", "font": "DejaVu Sans", "fontSize": 22, "color": "#333"}, "encoding": {"text": {"field": "text"}}}
   ]},
  {"title": {"text": "Overall survival", "dx": 20}, "width": 294, "height": 261,
   "encoding": {
    "x": {"field": "t", "type": "quantitative", "scale": {"domain": [-6, 131], "nice": false, "zero": false}, "axis": {"title": "Months", "values": [0,25,50,75,100,125]}},
    "y": {"field": "s", "type": "quantitative", "scale": {"domain": [-0.05, 1.05], "nice": false, "zero": false}, "axis": {"title": "Survival probability", "values": [0,0.25,0.5,0.75,1], "format": ".2f"}}},
   "layer": [
    {"data": {"name": "km"}, "transform": [{"filter": "datum.p == 'c'"}], "mark": {"type": "line", "interpolate": "step-after", "strokeWidth": 1.5}, "encoding": {"color": {"field": "g", "type": "nominal", "scale": {"domain": ["low","high"], "range": ["#3399ff","#ff9900"]}, "legend": null}}},
    {"data": {"name": "cs"}, "transform": [{"filter": "datum.p == 'c'"}], "mark": {"type": "point", "shape": "M-1,0L1,0M0,-1L0,1", "size": 50, "strokeWidth": 1.5, "filled": false, "opacity": 1}, "encoding": {"color": {"field": "g", "type": "nominal", "scale": {"domain": ["low","high"], "range": ["#3399ff","#ff9900"]}, "legend": null}}},
    {"data": {"name": "lab"}, "transform": [{"filter": "datum.p == 'c' && datum.k == 'let'"}], "mark": {"type": "text", "align": "right", "baseline": "middle", "font": "DejaVu Sans", "fontSize": 22, "color": "#333"}, "encoding": {"text": {"field": "text"}}},
    {"data": {"name": "lab"}, "transform": [{"filter": "datum.p == 'c' && datum.k == 'lab'"}], "mark": {"type": "text", "align": "left", "baseline": "middle", "font": "DejaVu Sans", "fontSize": 19, "color": "#333"}, "encoding": {"text": {"field": "text"}}},
    {"data": {"name": "lab"}, "transform": [{"filter": "datum.p == 'c' && datum.k == 'pi'"}], "mark": {"type": "text", "align": "right", "baseline": "middle", "font": "DejaVu Sans", "fontSize": 21, "fontStyle": "italic", "color": "#111"}, "encoding": {"text": {"field": "text"}}},
    {"data": {"name": "lab"}, "transform": [{"filter": "datum.p == 'c' && datum.k == 'pv'"}], "mark": {"type": "text", "align": "left", "baseline": "middle", "font": "DejaVu Sans", "fontSize": 21, "color": "#111"}, "encoding": {"text": {"field": "text"}}}
   ]},
  {"title": {"text": "Overall survival", "dx": 5}, "width": 294, "height": 261,
   "encoding": {
    "x": {"field": "t", "type": "quantitative", "scale": {"domain": [-6, 131], "nice": false, "zero": false}, "axis": {"title": "Months", "values": [0,25,50,75,100,125]}},
    "y": {"field": "s", "type": "quantitative", "scale": {"domain": [-0.05, 1.05], "nice": false, "zero": false}, "axis": {"title": "Survival probability", "values": [0,0.25,0.5,0.75,1], "format": ".2f"}}},
   "layer": [
    {"data": {"name": "km"}, "transform": [{"filter": "datum.p == 'd'"}], "mark": {"type": "line", "interpolate": "step-after", "strokeWidth": 1.5}, "encoding": {"color": {"field": "g", "type": "nominal", "scale": {"domain": ["low","high"], "range": ["#3399ff","#ff9900"]}, "legend": null}}},
    {"data": {"name": "cs"}, "transform": [{"filter": "datum.p == 'd'"}], "mark": {"type": "point", "shape": "M-1,0L1,0M0,-1L0,1", "size": 50, "strokeWidth": 1.5, "filled": false, "opacity": 1}, "encoding": {"color": {"field": "g", "type": "nominal", "scale": {"domain": ["low","high"], "range": ["#3399ff","#ff9900"]}, "legend": null}}},
    {"data": {"name": "lab"}, "transform": [{"filter": "datum.p == 'd' && datum.k == 'let'"}], "mark": {"type": "text", "align": "right", "baseline": "middle", "font": "DejaVu Sans", "fontSize": 22, "color": "#333"}, "encoding": {"text": {"field": "text"}}},
    {"data": {"name": "lab"}, "transform": [{"filter": "datum.p == 'd' && datum.k == 'lab'"}], "mark": {"type": "text", "align": "left", "baseline": "middle", "font": "DejaVu Sans", "fontSize": 19, "color": "#333"}, "encoding": {"text": {"field": "text"}}},
    {"data": {"name": "lab"}, "transform": [{"filter": "datum.p == 'd' && datum.k == 'pi'"}], "mark": {"type": "text", "align": "right", "baseline": "middle", "font": "DejaVu Sans", "fontSize": 21, "fontStyle": "italic", "color": "#111"}, "encoding": {"text": {"field": "text"}}},
    {"data": {"name": "lab"}, "transform": [{"filter": "datum.p == 'd' && datum.k == 'pv'"}], "mark": {"type": "text", "align": "left", "baseline": "middle", "font": "DejaVu Sans", "fontSize": 21, "color": "#111"}, "encoding": {"text": {"field": "text"}}}
   ]},
  {"title": {"text": "Overall survival", "dx": 7}, "width": 294, "height": 261,
   "encoding": {
    "x": {"field": "t", "type": "quantitative", "scale": {"domain": [-6, 131], "nice": false, "zero": false}, "axis": {"title": "Months", "values": [0,25,50,75,100,125]}},
    "y": {"field": "s", "type": "quantitative", "scale": {"domain": [-0.05, 1.05], "nice": false, "zero": false}, "axis": {"title": "Survival probability", "values": [0,0.25,0.5,0.75,1], "format": ".2f"}}},
   "layer": [
    {"data": {"name": "km"}, "transform": [{"filter": "datum.p == 'e'"}], "mark": {"type": "line", "interpolate": "step-after", "strokeWidth": 1.5}, "encoding": {"color": {"field": "g", "type": "nominal", "scale": {"domain": ["low","high"], "range": ["#3399ff","#ff9900"]}, "legend": null}}},
    {"data": {"name": "cs"}, "transform": [{"filter": "datum.p == 'e'"}], "mark": {"type": "point", "shape": "M-1,0L1,0M0,-1L0,1", "size": 50, "strokeWidth": 1.5, "filled": false, "opacity": 1}, "encoding": {"color": {"field": "g", "type": "nominal", "scale": {"domain": ["low","high"], "range": ["#3399ff","#ff9900"]}, "legend": null}}},
    {"data": {"name": "lab"}, "transform": [{"filter": "datum.p == 'e' && datum.k == 'let'"}], "mark": {"type": "text", "align": "right", "baseline": "middle", "font": "DejaVu Sans", "fontSize": 22, "color": "#333"}, "encoding": {"text": {"field": "text"}}},
    {"data": {"name": "lab"}, "transform": [{"filter": "datum.p == 'e' && datum.k == 'lab'"}], "mark": {"type": "text", "align": "left", "baseline": "middle", "font": "DejaVu Sans", "fontSize": 19, "color": "#333"}, "encoding": {"text": {"field": "text"}}},
    {"data": {"name": "lab"}, "transform": [{"filter": "datum.p == 'e' && datum.k == 'pi'"}], "mark": {"type": "text", "align": "right", "baseline": "middle", "font": "DejaVu Sans", "fontSize": 21, "fontStyle": "italic", "color": "#111"}, "encoding": {"text": {"field": "text"}}},
    {"data": {"name": "lab"}, "transform": [{"filter": "datum.p == 'e' && datum.k == 'pv'"}], "mark": {"type": "text", "align": "left", "baseline": "middle", "font": "DejaVu Sans", "fontSize": 21, "color": "#111"}, "encoding": {"text": {"field": "text"}}}
   ]},
  {"title": {"text": "Overall survival", "dx": 22}, "width": 294, "height": 261,
   "encoding": {
    "x": {"field": "t", "type": "quantitative", "scale": {"domain": [-6, 131], "nice": false, "zero": false}, "axis": {"title": "Months", "values": [0,25,50,75,100,125]}},
    "y": {"field": "s", "type": "quantitative", "scale": {"domain": [-0.05, 1.05], "nice": false, "zero": false}, "axis": {"title": "Survival probability", "values": [0,0.25,0.5,0.75,1], "format": ".2f"}}},
   "layer": [
    {"data": {"name": "km"}, "transform": [{"filter": "datum.p == 'f'"}], "mark": {"type": "line", "interpolate": "step-after", "strokeWidth": 1.5}, "encoding": {"color": {"field": "g", "type": "nominal", "scale": {"domain": ["low","high"], "range": ["#3399ff","#ff9900"]}, "legend": null}}},
    {"data": {"name": "cs"}, "transform": [{"filter": "datum.p == 'f'"}], "mark": {"type": "point", "shape": "M-1,0L1,0M0,-1L0,1", "size": 50, "strokeWidth": 1.5, "filled": false, "opacity": 1}, "encoding": {"color": {"field": "g", "type": "nominal", "scale": {"domain": ["low","high"], "range": ["#3399ff","#ff9900"]}, "legend": null}}},
    {"data": {"name": "lab"}, "transform": [{"filter": "datum.p == 'f' && datum.k == 'let'"}], "mark": {"type": "text", "align": "right", "baseline": "middle", "font": "DejaVu Sans", "fontSize": 22, "color": "#333"}, "encoding": {"text": {"field": "text"}}},
    {"data": {"name": "lab"}, "transform": [{"filter": "datum.p == 'f' && datum.k == 'lab'"}], "mark": {"type": "text", "align": "left", "baseline": "middle", "font": "DejaVu Sans", "fontSize": 19, "color": "#333"}, "encoding": {"text": {"field": "text"}}},
    {"data": {"name": "lab"}, "transform": [{"filter": "datum.p == 'f' && datum.k == 'pi'"}], "mark": {"type": "text", "align": "right", "baseline": "middle", "font": "DejaVu Sans", "fontSize": 21, "fontStyle": "italic", "color": "#111"}, "encoding": {"text": {"field": "text"}}},
    {"data": {"name": "lab"}, "transform": [{"filter": "datum.p == 'f' && datum.k == 'pv'"}], "mark": {"type": "text", "align": "left", "baseline": "middle", "font": "DejaVu Sans", "fontSize": 21, "color": "#111"}, "encoding": {"text": {"field": "text"}}}
   ]}
 ],
 "config": {
  "view": {"stroke": null},
  "axis": {"grid": false, "domainColor": "#555", "tickColor": "#555", "labelFont": "DejaVu Sans", "labelFontSize": 19, "labelColor": "#222", "titleFont": "DejaVu Sans", "titleFontWeight": "normal", "titleColor": "#222", "labelFlush": false},
  "axisX": {"tickSize": 5, "labelPadding": 4, "titleFontSize": 22, "titlePadding": 2},
  "axisY": {"tickSize": 4, "labelPadding": 1, "titleFontSize": 20, "titlePadding": 6},
  "title": {"font": "DejaVu Sans", "fontSize": 22, "fontWeight": "normal", "color": "#333", "frame": "group", "anchor": "middle", "baseline": "alphabetic", "offset": -17}
 }
}
